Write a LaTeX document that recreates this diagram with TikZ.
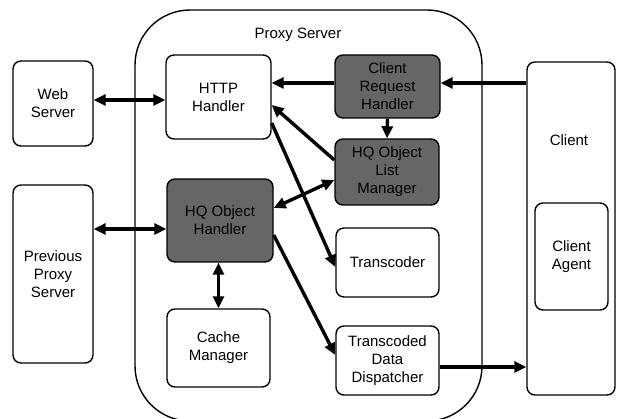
\documentclass[tikz,border=0pt]{standalone}
\usepackage{fontspec}
\setmainfont{Liberation Sans}
\usetikzlibrary{arrows.meta}

\tikzset{
  blk/.style={draw=black, line width=1.4pt, rounded corners=8pt, fill=white,
    align=center, inner sep=0pt, font=\fontsize{15}{18}\selectfont},
  darkblk/.style={blk, fill=black!60, text=black},
  flow/.style={line width=3.4pt, -{Triangle[length=12pt,width=11pt]}},
  bothflow/.style={line width=3.4pt, {Triangle[length=12pt,width=11pt]}-{Triangle[length=12pt,width=11pt]}},
}

\begin{document}
\begin{tikzpicture}[x=1pt, y=-1pt]
  \useasboundingbox (0,0) rectangle (619,419);

  % proxy server enclosure
  \draw[line width=1.4pt, rounded corners=55pt] (135,10) rectangle (482,421);
  \node[font=\fontsize{15}{18}\selectfont] (ptitle) at (298,35) {Proxy Server};

  % outside components
  \node[blk, minimum width=80pt, minimum height=85pt] (web) at (53,103.5) {Web\\Server};
  \node[blk, minimum width=80pt, minimum height=178pt] (prev) at (53,274) {Previous\\Proxy\\Server};
  \node[blk, minimum width=88pt, minimum height=333pt] (client) at (571,228.5) {};
  \node[font=\fontsize{15}{18}\selectfont] (clabel) at (569,140) {Client};
  \node[blk, minimum width=73pt, minimum height=107pt] (agent) at (571.5,256.5) {Client\\Agent};

  % proxy internals
  \node[blk, minimum width=105pt, minimum height=84pt] (http) at (218.5,97) {HTTP\\Handler};
  \node[darkblk, minimum width=106pt, minimum height=83pt] (hqh) at (220,220.5) {HQ Object\\Handler};
  \node[blk, minimum width=103pt, minimum height=78pt] (cache) at (218.5,348) {Cache\\Manager};
  \node[darkblk, minimum width=105pt, minimum height=63pt] (req) at (387.5,86.5) {Client\\Request\\Handler};
  \node[darkblk, minimum width=104pt, minimum height=66pt] (list) at (387,172) {HQ Object\\List\\Manager};
  \node[blk, minimum width=103pt, minimum height=69pt] (trans) at (387.5,262.5) {Transcoder};
  \node[blk, minimum width=103pt, minimum height=69pt] (tdd) at (387.5,360.5) {Transcoded\\Data\\Dispatcher};

  % connectors
  \draw[bothflow] ([yshift=3.5pt]web.east) -- ([yshift=-3pt]http.west);
  \draw[bothflow] ([yshift=45pt]prev.east) -- ([yshift=-8.5pt]hqh.west);
  \draw[flow] ([yshift=145.5pt]client.west) -- ([yshift=3.5pt]req.east);
  \draw[flow] ([yshift=3.5pt]req.west) -- ([yshift=14pt]http.east);
  \draw[flow] (req.south) -- (list.north);
  \draw[flow] ([yshift=12pt]list.west) -- ([yshift=-8pt]http.east);
  \draw[flow] ([yshift=-26pt]http.east) -- ([yshift=-4.5pt]trans.west);
  \draw[bothflow] ([yshift=12.5pt]hqh.east) -- ([yshift=-8pt]list.west);
  \draw[flow] ([yshift=-14.5pt]hqh.east) -- ([yshift=5.5pt]tdd.west);
  \draw[bothflow] (cache.north |- hqh.south) -- (cache.north);
  \draw[flow] ([yshift=-6.5pt]tdd.east) -- ([yshift=-138.5pt]client.west);
\end{tikzpicture}
\end{document}
